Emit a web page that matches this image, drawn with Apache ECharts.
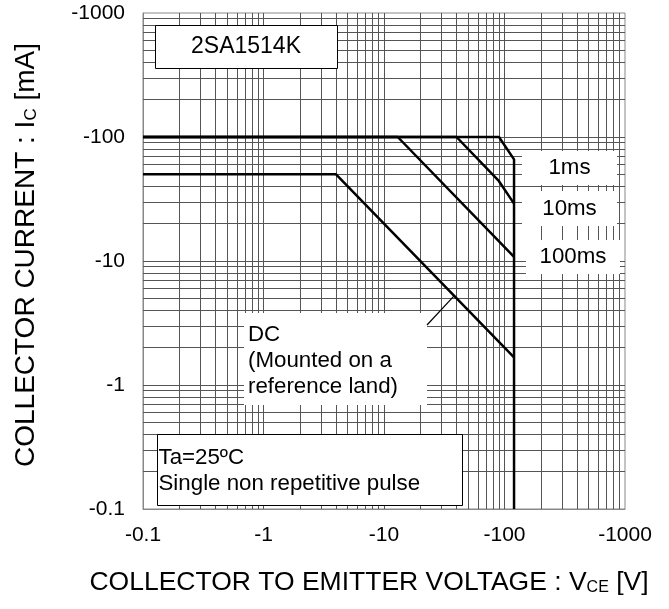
<!DOCTYPE html>
<html><head><meta charset="utf-8">
<script src="https://cdn.jsdelivr.net/npm/echarts@6/dist/echarts.min.js"></script>
<style>html,body{margin:0;padding:0;background:#fff}#c{width:669px;height:609px}</style>
</head><body><div id="c"></div>
<script>
// Magnitudes (PNP device: axes are labelled with a minus sign)
const xDecades = [0.1, 1, 10, 100];          // V
const yDecades = [0.1, 1, 10, 100];          // mA
const gridMultipliers = [1, 2, 3, 4, 5, 6, 7, 8, 9];
const xRange = [0.1, 1000];
const yRange = [0.1, 1000];

const curve1ms   = [[0.1, 100], [90, 100], [120, 66], [120, 0.1]];
const curve10ms  = [[0.1, 100], [40, 100], [90, 44], [120, 29]];
const curve100ms = [[0.1, 100], [13, 100], [120, 10.8]];
const curveDC    = [[0.1, 50], [4, 50], [120, 1.67]];
const dcPointer  = [38, 5.2];

const FONT = '"Liberation Sans", Arial, sans-serif';

function gridValues(decades, range) {
  const out = [];
  decades.forEach(d => gridMultipliers.forEach(m => {
    const v = +(d * m).toPrecision(6);
    if (v > range[0] && v < range[1]) out.push(v);
  }));
  return out;
}
const vLines = gridValues(xDecades, xRange).map(v => ({ xAxis: v }));
const hLines = gridValues(yDecades, yRange).map(v => ({ yAxis: v }));

const chart = echarts.init(document.getElementById('c'), null, { renderer: 'canvas' });

const curveStyle = { color: '#000', width: 2.5 };
function curve(name, data) {
  return { name, type: 'line', data, showSymbol: false, symbol: 'none', z: 5,
           lineStyle: curveStyle, itemStyle: { color: '#000' }, silent: true };
}

chart.setOption({
  animation: false,
  backgroundColor: '#fff',
  grid: { left: 143, right: 44, top: 13, bottom: 100, show: true, borderColor: '#888', borderWidth: 1 },
  xAxis: {
    type: 'log', logBase: 10, min: xRange[0], max: xRange[1],
    axisLine: { show: true, lineStyle: { color: '#888', width: 1 } },
    axisTick: { show: false },
    splitLine: { show: false },
    axisLabel: { color: '#000', fontSize: 21, fontFamily: FONT, margin: 16,
                 formatter: v => '-' + v },
    name: 'COLLECTOR TO EMITTER VOLTAGE : V{sub|CE} [V]',
    nameLocation: 'middle', nameGap: 60,
    nameTextStyle: { color: '#000', fontSize: 26.5, fontFamily: FONT, padding: [0, 30, 0, 0],
      rich: { sub: { fontSize: 16, fontFamily: FONT, color: '#000', verticalAlign: 'bottom', padding: [10, 0, 0, 0] } } }
  },
  yAxis: {
    type: 'log', logBase: 10, min: yRange[0], max: yRange[1],
    axisLine: { show: true, lineStyle: { color: '#888', width: 1 } },
    axisTick: { show: false },
    splitLine: { show: false },
    axisLabel: { color: '#000', fontSize: 21, fontFamily: FONT, margin: 18,
                 formatter: v => '-' + v },
    name: 'COLLECTOR CURRENT : I{sub|C} [mA]',
    nameLocation: 'middle', nameGap: 103, nameRotate: 90,
    nameTextStyle: { color: '#000', fontSize: 28, fontFamily: FONT, padding: [0, 0, 0, 12],
      rich: { sub: { fontSize: 17, fontFamily: FONT, color: '#000', verticalAlign: 'bottom', padding: [10, 0, 0, 0] } } }
  },
  series: [
    { name: 'grid', type: 'line', data: [], z: 1, silent: true,
      markLine: { silent: true, symbol: ['none', 'none'], label: { show: false },
        lineStyle: { color: '#555', width: 1, type: 'solid' },
        emphasis: { disabled: true },
        data: vLines.concat(hLines) } },
    curve('DC', curveDC),
    curve('100ms', curve100ms),
    curve('10ms', curve10ms),
    curve('1ms', curve1ms)
  ]
});

const p = chart.convertToPixel({ gridIndex: 0 }, dcPointer);
const txt = (x, y, s, align, size) => ({ type: 'text', x, y, z: 101, silent: true,
  style: { text: s, fontSize: size || 22.3, fontFamily: FONT, fill: '#000', align: align || 'center', verticalAlign: 'middle' } });
const box = (x, y, w, h, stroke) => ({ type: 'rect', z: 100, silent: true,
  shape: { x, y, width: w, height: h },
  style: { fill: '#fff', stroke: stroke ? '#000' : null, lineWidth: stroke ? 1 : 0 } });

chart.setOption({
  graphic: [
    box(155.5, 25.5, 182, 43, true), txt(246, 47, '2SA1514K', 'center', 23),
    box(522, 151, 95, 34, false), txt(569.5, 168, '1ms'),
    box(522, 191, 95, 35, false), txt(569.5, 208.5, '10ms'),
    box(526, 240, 94, 34, false), txt(573, 257, '100ms'),
    box(244, 313, 183, 92, false),
    txt(248, 335, 'DC', 'left'), txt(248, 361, '(Mounted on a', 'left'), txt(248, 387, 'reference land)', 'left'),
    { type: 'line', z: 101, silent: true, shape: { x1: 427, y1: 325, x2: p[0], y2: p[1] },
      style: { stroke: '#000', lineWidth: 1.2 } },
    box(157.5, 434.5, 305, 71, true),
    txt(158.5, 458, 'Ta=25ºC', 'left'), txt(158.5, 484, 'Single non repetitive pulse', 'left')
  ]
});
</script>
</body></html>
